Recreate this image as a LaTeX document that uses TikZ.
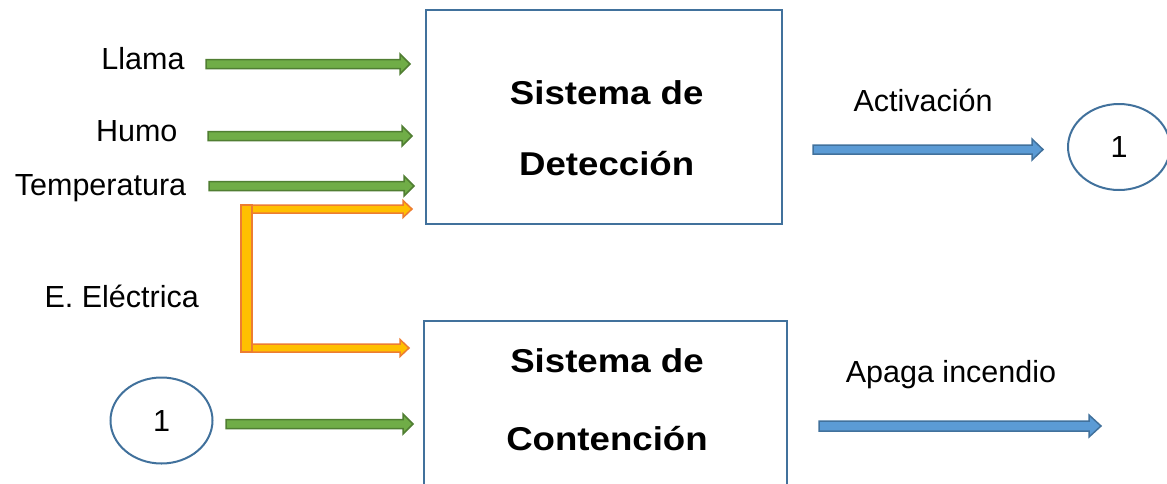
\documentclass[tikz,border=0pt]{standalone}
\usepackage{fontspec}
\setmainfont{Liberation Sans}
\newfontfamily\anchobf[FakeStretch=1.11]{Liberation Sans Bold}
\usepackage{tikz}
\usetikzlibrary{arrows,positioning,calc}
\usetikzlibrary{shapes.geometric}
\definecolor{verde}{HTML}{70AD47}
\definecolor{verdeosc}{HTML}{507E32}
\definecolor{azul}{HTML}{5B9BD5}
\definecolor{azulosc}{HTML}{41719C}
\definecolor{naranja}{HTML}{FFC000}
\definecolor{naranjaosc}{HTML}{ED7D31}
% block arrow: style, from, to, half shaft, half head, head length
\newcommand\flecha[6]{%
\filldraw[#1] ($(#2)+(0,-#4)$) -- ($(#3)+(-#6,-#4)$) -- ($(#3)+(-#6,-#5)$) -- (#3)
 -- ($(#3)+(-#6,#5)$) -- ($(#3)+(-#6,#4)$) -- ($(#2)+(0,#4)$) -- cycle;}

\begin{document}
\begin{tikzpicture}[x=1pt,y=-1pt]%
\useasboundingbox (0,0) rectangle (1167,483);%
\tikzstyle{txt}=[inner sep=0pt,anchor=base,font=\fontsize{30.5}{36}\selectfont]
\tikzstyle{negr}=[inner sep=0pt,anchor=base,font=\fontsize{33}{38}\anchobf]
\tikzstyle{sis}=[draw=azulosc,line width=2pt,shape=rectangle]
\tikzstyle{circ}=[draw=azulosc,line width=2pt,shape=ellipse,minimum width=102,minimum height=86,inner sep=0pt,font=\fontsize{30.5}{36}\selectfont]
\tikzstyle{fverde}=[fill=verde,draw=verdeosc,line width=1.5pt]
\tikzstyle{fazul}=[fill=azul,draw=azulosc,line width=1.5pt]
\tikzstyle{fnaranja}=[fill=naranja,draw=naranjaosc,line width=1.5pt]
% bloques
\node[sis,minimum width=356,minimum height=214] (det) at (604,117) {}; %%
\node[sis,minimum width=363,minimum height=240] (cont) at (605.5,441) {}; %%
\node[negr] (det1) at (606.7,104) {Sistema de}; %%
\node[negr] (det2) at (606.7,175) {Detección}; %%
\node[negr] (cont1) at (607,372) {Sistema de}; %%
\node[negr] (cont2) at (607,450) {Contención}; %%
% entradas
\node[txt] (llama) at (143,69.3) {Llama}; %%
\node[txt] (humo) at (136.7,141.7) {Humo}; %%
\node[txt] (temp) at (100.5,195) {Temperatura}; %%
\node[txt] (elec) at (121.7,307.7) {E. Eléctrica}; %%
\node[circ] (uno2) at (161.5,420.5) {1}; %%
% salidas
\node[txt] (activ) at (923,111.7) {Activación}; %%
\node[circ] (uno1) at (1119,147) {1}; %%
\node[txt] (apaga) at (951,382.3) {Apaga incendio}; %%
% puntas de las flechas
\coordinate (llamaS) at (206,64); \coordinate (llamaE) at (410,64); %%
\coordinate (humoS) at (208,136); \coordinate (humoE) at (412,136); %%
\coordinate (tempS) at (209,186); \coordinate (tempE) at (414,186); %%
\coordinate (unoS) at (226,424); \coordinate (unoE) at (413,424); %%
\coordinate (elec1S) at (251,209); \coordinate (elec1E) at (412,209); %%
\coordinate (elec2S) at (251,348); \coordinate (elec2E) at (409,348); %%
\coordinate (activS) at (813,149.5); \coordinate (activE) at (1043,149.5); %%
\coordinate (apagaS) at (819,426); \coordinate (apagaE) at (1101,426); %%
\flecha{fverde}{llamaS}{llamaE}{4.5}{10}{10} %%
\flecha{fverde}{humoS}{humoE}{4.5}{10}{10} %%
\flecha{fverde}{tempS}{tempE}{4.5}{10}{10} %%
\flecha{fverde}{unoS}{unoE}{4.5}{10}{10} %%
\flecha{fnaranja}{elec1S}{elec1E}{4}{8.5}{9} %%
\flecha{fnaranja}{elec2S}{elec2E}{4}{8.5}{9} %%
\node[fnaranja,shape=rectangle,minimum width=11,minimum height=147,inner sep=0pt] (barra) at (246.5,278.5) {}; %%
\flecha{fazul}{activS}{activE}{4.5}{10.5}{11} %%
\flecha{fazul}{apagaS}{apagaE}{5}{11}{12} %%
\end{tikzpicture}
\end{document}
